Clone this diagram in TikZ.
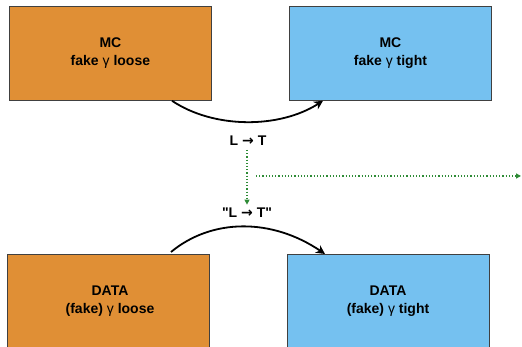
\documentclass[tikz,border=0pt]{standalone}
\usepackage{fontspec}
\setmainfont{Liberation Sans}[Ligatures=TeXOff]
\newfontfamily\arrowfont{DejaVu Sans}
\usetikzlibrary{arrows.meta,calc}
\definecolor{boxorange}{HTML}{E08F35}
\definecolor{boxblue}{HTML}{75C1F0}
\definecolor{dotgreen}{HTML}{2E8B36}
\tikzset{
  fbox/.style={draw=black!75,line width=0.8pt,minimum width=202pt,minimum height=94pt,inner sep=0pt,anchor=north west,font=\fontsize{14}{18}\selectfont\bfseries,align=center},
  bigbox/.style={fbox,minimum height=120pt},
  curvearrow/.style={line width=1.8pt,-{Stealth[length=9pt,width=9pt]}},
  greenarrow/.style={dotgreen,line width=1.2pt,dotted,-{Triangle[length=5pt,width=5pt]}},
  lbl/.style={font=\fontsize{14}{18}\selectfont\bfseries}
}
\newcommand{\gam}{{\mdseries γ}}
\newcommand{\rarr}{{\arrowfont\bfseries →}}
\begin{document}
\begin{tikzpicture}[x=1pt,y=-1pt]
\useasboundingbox (0,0) rectangle (522,347);
\clip (0,0) rectangle (522,347);
\fill[white] (0,0) rectangle (522,347);
\node[fbox,fill=boxorange] (mcl) at (9,6) {MC\\fake \gam{} loose};
\node[fbox,fill=boxblue] (mct) at (289,6) {MC\\fake \gam{} tight};
\node[bigbox,fill=boxorange] (dl) at (7,254) {};
\node[bigbox,fill=boxblue] (dt) at (287,254) {};
\node[lbl,align=center] (dltext) at (110,301) {DATA\\(fake) \gam{} loose};
\node[lbl,align=center] (dttext) at (388,301) {DATA\\(fake) \gam{} tight};
\node[lbl] (lt) at (248,141) {L \rarr{} T};
\node[lbl] (qlt) at (247,213) {"L \rarr{} T"};
\coordinate (gstart) at (247,150);
\coordinate (hstart) at (256,176);
\coordinate (hend) at (521,176);
\draw[curvearrow] ($(mcl.south west)+(163,0)$) .. controls ($(mcl.south west)+(205,28)$) and ($(mct.south west)+(-10,28)$) .. ($(mct.south west)+(34,0)$);
\draw[curvearrow] ($(dl.north west)+(164,-2)$) .. controls ($(dl.north west)+(205,-36)$) and ($(dt.north west)+(-15,-36)$) .. ($(dt.north west)+(38,0)$);
\draw[greenarrow] (gstart) -- (qlt.north -| gstart);
\draw[greenarrow] (hstart) -- (hend);
\end{tikzpicture}
\end{document}
